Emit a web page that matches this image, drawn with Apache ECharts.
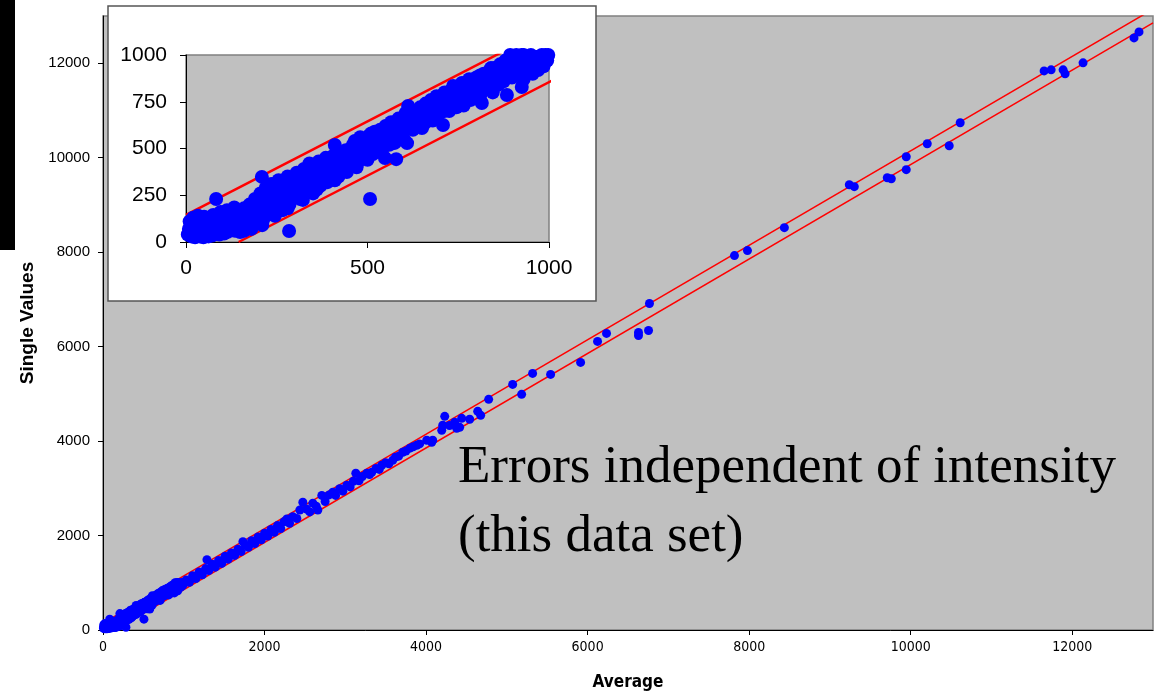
<!DOCTYPE html>
<html>
<head>
<meta charset="utf-8">
<script src="https://cdn.jsdelivr.net/npm/echarts@6/dist/echarts.min.js"></script>
<style>
  html, body { margin: 0; padding: 0; background: #fff; }
  #chart { width: 1157px; height: 691px; }
</style>
</head>
<body>
<div id="chart"></div>
<script>
// tick values
var mainTicks = [0, 2000, 4000, 6000, 8000, 10000, 12000];
var insetXTicks = [0, 500, 1000];
var insetYTicks = [0, 250, 500, 750, 1000];

// +/- error band (y = x +- 145)
var upperBand = [[0, 145], [13000, 13145]];
var lowerBand = [[145, 0], [13000, 12855]];

// points below 1000 (also shown in the inset)
var lowPoints = [
  [5,40],[8,70],[10,110],[12,55],[15,30],[18,90],[20,130],[22,60],[25,25],[28,100],
  [30,45],[33,140],[35,75],[38,30],[40,115],[42,55],[45,90],[48,25],[50,135],[52,65],
  [55,40],[58,105],[60,80],[62,30],[65,125],[68,55],[70,95],[72,35],[75,145],[78,70],
  [80,110],[83,230],[85,50],[88,130],[90,85],[92,40],[95,160],[98,100],[100,60],[103,140],
  [105,45],[108,115],[110,75],[113,170],[115,55],[118,130],[120,95],[123,65],[125,155],[128,110],
  [130,80],[133,185],[135,60],[138,140],[140,100],[143,75],[145,160],[149,53],[150,120],
  [155,90],[160,180],[165,130],[170,80],[175,200],[180,140],[185,100],[190,230],[195,160],[200,120],
  [205,260],[209,348],[212,118],[215,200],[220,290],[225,160],[230,250],[235,310],[240,190],[245,140],[250,270],
  [255,330],[260,220],[265,170],[270,300],[275,250],[280,350],[284,59],[285,200],[290,320],[295,270],[300,240],
  [305,370],[310,300],[315,230],[322,225],[325,390],[330,280],[335,340],[340,420],[345,310],[350,260],
  [355,380],[360,330],[365,430],[370,300],[375,400],[380,350],[385,450],[390,320],[395,410],[400,370],
  [405,460],[410,519],[415,400],[420,350],[425,470],[430,420],[435,380],[440,490],[443,374],[448,440],
  [455,500],[460,410],[465,540],[470,460],[475,430],[480,560],[485,490],[490,450],[495,530],[500,480],
  [505,570],[507,230],[510,520],[515,470],[520,590],[525,540],[530,500],[535,600],[540,560],[548,449],
  [555,580],[560,520],[565,640],[570,600],[575,530],[579,443],[585,660],[590,570],[595,620],[600,550],
  [605,690],[609,529],[612,727],[618,640],[625,600],[630,700],[635,660],[640,620],[645,720],[650,680],
  [655,630],[660,740],[665,690],[670,650],[675,760],[680,700],[685,660],[690,780],[695,720],[700,690],
  [708,626],[712,800],[718,740],[725,700],[730,810],[736,834],[740,760],[745,720],[750,800],
  [755,770],[760,850],[765,730],[770,820],[775,790],[780,870],[785,760],[790,840],[795,800],[800,880],
  [805,830],[810,780],[815,743],[820,900],[825,860],[830,820],[835,910],[840,870],[845,800],[850,930],
  [855,880],[860,840],[865,950],[870,900],[875,860],[880,970],[884,786],[888,930],[893,1000],[898,880],
  [905,960],[910,910],[915,990],[920,940],[925,1000],[925,829],[930,870],[935,970],[940,920],[945,990],
  [950,950],[955,900],[960,980],[967,989],[970,920],[975,960],[980,1000],[985,940],[989,989],[995,970],[998,1000],
  [160,60],[170,150],[180,70],[190,120],[200,180],[210,90],[220,140],[230,180],[240,260],[250,200],
  [260,290],[270,230],[280,180],[290,260],[300,330],[310,260],[320,350],[330,310],[340,290],[350,400],
  [360,280],[370,370],[380,420],[390,360],[400,440],[410,330],[420,450],[430,380],[440,410],[450,470],
  [460,520],[470,400],[480,470],[490,530],[500,440],[510,580],[520,500],[530,560],[540,490],[550,620],
  [560,600],[570,540],[580,610],[590,650],[600,590],[610,660],[620,700],[630,650],[640,700],[650,610],
  [660,700],[670,740],[680,650],[690,710],[700,760],[710,700],[720,780],[730,740],[740,820],[750,740],
  [760,800],[770,760],[780,830],[790,780],[800,830],[810,890],[820,840],[830,870],[840,930],[850,860],
  [860,900],[870,950],[880,900],[890,960],[900,920],[910,1000],[920,970],[930,1000],[940,960],[950,1000],
  [960,940],[970,990],[980,960],[990,1000]
];

// points above 1000 (main chart only)
var highPoints = [
  [1030,1060],[1070,1010],[1110,1150],[1150,1090],[1190,1230],[1230,1170],[1270,1300],[1287,1490],
  [1310,1260],[1350,1390],[1390,1330],[1430,1470],[1470,1410],[1510,1560],[1550,1500],[1590,1630],
  [1630,1580],[1670,1710],[1710,1660],[1732,1870],[1760,1800],[1800,1750],[1840,1890],[1880,1830],
  [1920,1970],[1960,1910],[2000,2050],[2040,1990],[2080,2130],[2120,2070],[2160,2210],[2200,2150],
  [2240,2290],[2276,2350],[2310,2260],[2350,2400],[2400,2360],[2437,2540],[2474,2706],[2520,2560],
  [2560,2500],[2598,2685],[2640,2620],[2660,2540],[2709,2850],[2750,2720],[2800,2860],[2845,2917],
  [2880,2850],[2930,2990],[2970,2940],[3018,3065],[3060,3030],[3100,3150],[3130,3319],[3170,3160],
  [3210,3250],[3266,3319],[3300,3290],[3328,3340],[3380,3420],[3420,3400],[3451,3488],[3500,3540],
  [3540,3520],[3587,3594],[3620,3660],[3660,3680],[3711,3763],[3750,3790],[3800,3850],[3840,3880],
  [3884,3911],[3920,3940],[4008,4017],[4070,3974],[4082,4017],[4194,4228],[4206,4334],[4231,4524],
  [4290,4330],[4354,4397],[4379,4270],[4416,4291],[4441,4482],[4540,4461],[4639,4630],[4676,4545],
  [4775,4883],[5072,5200],[5183,4989],[5319,5433],[5542,5412],[5913,5666],[6123,6110],[6234,6279],
  [6630,6300],[6630,6236],[6754,6342],[6766,6913],[7818,7927],[7979,8033],[8436,8519],[9240,9428],
  [9302,9386],[9710,9576],[9760,9555],[9945,10020],[9945,9746],[10205,10295],[10477,10253],[10613,10739],
  [11652,11838],[11739,11860],[11887,11860],[11912,11775],[12134,12008],[12765,12536],[12827,12663]
];

var sans = "'Liberation Sans', Arial, sans-serif";
var narrow = "'Liberation Sans Narrow', 'DejaVu Sans Condensed', 'Liberation Sans', Arial, sans-serif";
var plain = function (v) { return String(v); };

var chart = echarts.init(document.getElementById('chart'));

var option = {
  animation: false,
  backgroundColor: '#fff',
  grid: [
    { left: 103, top: 16, width: 1050, height: 614, show: true, outerBoundsMode: 'none',
      backgroundColor: '#c0c0c0', borderColor: '#808080', borderWidth: 1.5, z: 0 },
    { left: 186, top: 55, width: 363, height: 187, show: true, outerBoundsMode: 'none',
      backgroundColor: '#c0c0c0', borderColor: '#808080', borderWidth: 1.5, z: 10 }
  ],
  xAxis: [
    {
      gridIndex: 0, type: 'value', min: 0, max: 13000, interval: 2000,
      name: 'Average', nameLocation: 'middle', nameGap: 44,
      nameTextStyle: { fontFamily: narrow, fontWeight: 'bold', fontSize: 17, color: '#000' },
      splitLine: { show: false },
      axisLine: { show: true, onZero: false, lineStyle: { color: '#000', width: 1 } },
      axisTick: { show: true, length: 5, customValues: mainTicks, lineStyle: { color: '#000' } },
      axisLabel: { customValues: mainTicks, formatter: plain, margin: 10, fontFamily: narrow, fontSize: 14, color: '#000' }
    },
    {
      gridIndex: 1, type: 'value', min: 0, max: 1000, interval: 500, z: 11,
      splitLine: { show: false },
      axisLine: { show: true, onZero: false, lineStyle: { color: '#000', width: 1 } },
      axisTick: { show: true, length: 6, customValues: insetXTicks, lineStyle: { color: '#000' } },
      axisLabel: { customValues: insetXTicks, formatter: plain, margin: 16, fontFamily: sans, fontSize: 21, color: '#000' }
    }
  ],
  yAxis: [
    {
      gridIndex: 0, type: 'value', min: 0, max: 13000, interval: 2000,
      name: 'Single Values', nameLocation: 'middle', nameGap: 64,
      nameTextStyle: { fontFamily: sans, fontWeight: 'bold', fontSize: 19, color: '#000' },
      splitLine: { show: false },
      axisLine: { show: true, onZero: false, lineStyle: { color: '#000', width: 1 } },
      axisTick: { show: true, length: 5, customValues: mainTicks, lineStyle: { color: '#000' } },
      axisLabel: { customValues: mainTicks, formatter: plain, margin: 13, fontFamily: sans, fontSize: 15, color: '#000' }
    },
    {
      gridIndex: 1, type: 'value', min: 0, max: 1000, interval: 250, z: 11,
      splitLine: { show: false },
      axisLine: { show: true, onZero: false, lineStyle: { color: '#000', width: 1 } },
      axisTick: { show: true, length: 6, customValues: insetYTicks, lineStyle: { color: '#000' } },
      axisLabel: { customValues: insetYTicks, formatter: plain, margin: 19, fontFamily: sans, fontSize: 21, color: '#000' }
    }
  ],
  graphic: [
    { type: 'rect', z: 0, shape: { x: 0, y: 0, width: 15, height: 250 }, style: { fill: '#000' } },
    { type: 'rect', z: 5, shape: { x: 108, y: 6, width: 488, height: 295 },
      style: { fill: '#fff', stroke: '#555', lineWidth: 1.5 } },
    { type: 'text', z: 20, x: 458, y: 468,
      style: { text: 'Errors independent of intensity', font: '53px "Liberation Serif", "Times New Roman", serif',
               fill: '#000', verticalAlign: 'middle' } },
    { type: 'text', z: 20, x: 458, y: 537,
      style: { text: '(this data set)', font: '53px "Liberation Serif", "Times New Roman", serif',
               fill: '#000', verticalAlign: 'middle' } }
  ],
  series: [
    { type: 'line', xAxisIndex: 0, yAxisIndex: 0, data: upperBand, symbol: 'none', clip: true, z: 1,
      lineStyle: { color: '#ff0000', width: 1.5 } },
    { type: 'line', xAxisIndex: 0, yAxisIndex: 0, data: lowerBand, symbol: 'none', clip: true, z: 1,
      lineStyle: { color: '#ff0000', width: 1.5 } },
    { type: 'scatter', xAxisIndex: 0, yAxisIndex: 0, data: lowPoints.concat(highPoints), symbolSize: 9, z: 2,
      itemStyle: { color: '#0000ff', opacity: 1 } },
    { type: 'line', xAxisIndex: 1, yAxisIndex: 1, data: upperBand, symbol: 'none', clip: true, z: 12,
      lineStyle: { color: '#ff0000', width: 2.5 } },
    { type: 'line', xAxisIndex: 1, yAxisIndex: 1, data: lowerBand, symbol: 'none', clip: true, z: 12,
      lineStyle: { color: '#ff0000', width: 2.5 } },
    { type: 'scatter', xAxisIndex: 1, yAxisIndex: 1, data: lowPoints, symbolSize: 14, z: 13,
      itemStyle: { color: '#0000ff', opacity: 1 } }
  ]
};

chart.setOption(option);
</script>
</body>
</html>
